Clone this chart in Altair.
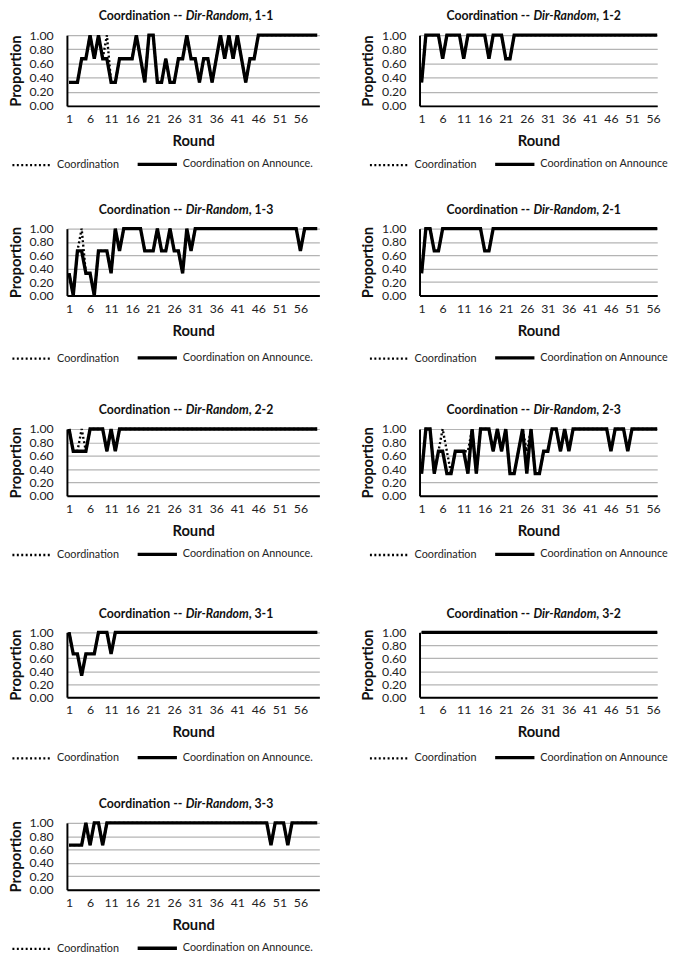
import altair as alt
import pandas as pd

FONT = "Lato"
ROUNDS = list(range(1, 61))
X_TICKS = [1, 6, 11, 16, 21, 26, 31, 36, 41, 46, 51, 56]
Y_TICKS = [0.0, 0.2, 0.4, 0.6, 0.8, 1.0]
SERIES = ["Coordination", "Coordination on Announce."]

# ---- "Coordination on Announce." (ann_) and "Coordination" (coord_) per round 1..60 ----
ann_11 = [0.333, 0.333, 0.333, 0.667, 0.667, 1, 0.667, 1, 0.667, 0.667,
          0.333, 0.333, 0.667, 0.667, 0.667, 0.667, 1, 0.667, 0.333, 1,
          1, 0.333, 0.333, 0.667, 0.333, 0.333, 0.667, 0.667, 1, 0.667,
          0.667, 0.333, 0.667, 0.667, 0.333, 0.667, 1, 0.667, 1, 0.667,
          1, 0.667, 0.333, 0.667, 0.667, 1, 1, 1, 1, 1,
          1, 1, 1, 1, 1, 1, 1, 1, 1, 1]
coord_11 = [0.333, 0.333, 0.333, 0.667, 0.667, 1, 0.667, 1, 0.667, 1,
            0.333, 0.333, 0.667, 0.667, 0.667, 0.667, 1, 0.667, 0.333, 1,
            1, 0.333, 0.333, 0.667, 0.333, 0.333, 0.667, 0.667, 1, 0.667,
            0.667, 0.333, 0.667, 0.667, 0.333, 0.667, 1, 0.667, 1, 0.667,
            1, 0.667, 0.333, 0.667, 0.667, 1, 1, 1, 1, 1,
            1, 1, 1, 1, 1, 1, 1, 1, 1, 1]

ann_12 = [0.333, 1, 1, 1, 1, 0.667, 1, 1, 1, 1,
          0.667, 1, 1, 1, 1, 1, 0.667, 1, 1, 1,
          0.667, 0.667, 1, 1, 1, 1, 1, 1, 1, 1,
          1, 1, 1, 1, 1, 1, 1, 1, 1, 1,
          1, 1, 1, 1, 1, 1, 1, 1, 1, 1,
          1, 1, 1, 1, 1, 1, 1, 1, 1, 1]
coord_12 = [0.333, 1, 1, 1, 1, 0.667, 1, 1, 1, 1,
            0.667, 1, 1, 1, 1, 1, 0.667, 1, 1, 1,
            0.667, 0.667, 1, 1, 1, 1, 1, 1, 1, 1,
            1, 1, 1, 1, 1, 1, 1, 1, 1, 1,
            1, 1, 1, 1, 1, 1, 1, 1, 1, 1,
            1, 1, 1, 1, 1, 1, 1, 1, 1, 1]

ann_13 = [0.333, 0, 0.667, 0.667, 0.333, 0.333, 0, 0.667, 0.667, 0.667,
          0.333, 1, 0.667, 1, 1, 1, 1, 1, 0.667, 0.667,
          0.667, 1, 0.667, 0.667, 1, 0.667, 0.667, 0.333, 1, 0.667,
          1, 1, 1, 1, 1, 1, 1, 1, 1, 1,
          1, 1, 1, 1, 1, 1, 1, 1, 1, 1,
          1, 1, 1, 1, 1, 0.667, 1, 1, 1, 1]
coord_13 = [0.333, 0, 0.667, 1, 0.333, 0.333, 0, 0.667, 0.667, 0.667,
            0.333, 1, 0.667, 1, 1, 1, 1, 1, 0.667, 0.667,
            0.667, 1, 0.667, 0.667, 1, 0.667, 0.667, 0.333, 1, 0.667,
            1, 1, 1, 1, 1, 1, 1, 1, 1, 1,
            1, 1, 1, 1, 1, 1, 1, 1, 1, 1,
            1, 1, 1, 1, 1, 0.667, 1, 1, 1, 1]

ann_21 = [0.333, 1, 1, 0.667, 0.667, 1, 1, 1, 1, 1,
          1, 1, 1, 1, 1, 0.667, 0.667, 1, 1, 1,
          1, 1, 1, 1, 1, 1, 1, 1, 1, 1,
          1, 1, 1, 1, 1, 1, 1, 1, 1, 1,
          1, 1, 1, 1, 1, 1, 1, 1, 1, 1,
          1, 1, 1, 1, 1, 1, 1, 1, 1, 1]
coord_21 = [0.333, 1, 1, 0.667, 0.667, 1, 1, 1, 1, 1,
            1, 1, 1, 1, 1, 0.667, 0.667, 1, 1, 1,
            1, 1, 1, 1, 1, 1, 1, 1, 1, 1,
            1, 1, 1, 1, 1, 1, 1, 1, 1, 1,
            1, 1, 1, 1, 1, 1, 1, 1, 1, 1,
            1, 1, 1, 1, 1, 1, 1, 1, 1, 1]

ann_22 = [1, 0.667, 0.667, 0.667, 0.667, 1, 1, 1, 1, 0.667,
          1, 0.667, 1, 1, 1, 1, 1, 1, 1, 1,
          1, 1, 1, 1, 1, 1, 1, 1, 1, 1,
          1, 1, 1, 1, 1, 1, 1, 1, 1, 1,
          1, 1, 1, 1, 1, 1, 1, 1, 1, 1,
          1, 1, 1, 1, 1, 1, 1, 1, 1, 1]
coord_22 = [1, 0.667, 0.667, 1, 0.667, 1, 1, 1, 1, 0.667,
            1, 0.667, 1, 1, 1, 1, 1, 1, 1, 1,
            1, 1, 1, 1, 1, 1, 1, 1, 1, 1,
            1, 1, 1, 1, 1, 1, 1, 1, 1, 1,
            1, 1, 1, 1, 1, 1, 1, 1, 1, 1,
            1, 1, 1, 1, 1, 1, 1, 1, 1, 1]

ann_23 = [0.333, 1, 1, 0.333, 0.667, 0.667, 0.333, 0.333, 0.667, 0.667,
          0.667, 0.333, 1, 0.333, 1, 1, 1, 0.667, 1, 0.667,
          1, 0.333, 0.333, 0.667, 1, 0.333, 1, 0.333, 0.333, 0.667,
          0.667, 1, 1, 0.667, 1, 0.667, 1, 1, 1, 1,
          1, 1, 1, 1, 1, 0.667, 1, 1, 1, 0.667,
          1, 1, 1, 1, 1, 1, 1, 1, 1, 1]
coord_23 = [0.333, 1, 1, 0.333, 0.667, 1, 0.667, 0.333, 0.667, 0.667,
            0.667, 0.667, 1, 0.333, 1, 1, 1, 0.667, 1, 0.667,
            1, 0.333, 0.333, 0.667, 1, 0.667, 1, 0.333, 0.333, 0.667,
            0.667, 1, 1, 0.667, 1, 0.667, 1, 1, 1, 1,
            1, 1, 1, 1, 1, 0.667, 1, 1, 1, 0.667,
            1, 1, 1, 1, 1, 1, 1, 1, 1, 1]

ann_31 = [1, 0.667, 0.667, 0.333, 0.667, 0.667, 0.667, 1, 1, 1,
          0.667, 1, 1, 1, 1, 1, 1, 1, 1, 1,
          1, 1, 1, 1, 1, 1, 1, 1, 1, 1,
          1, 1, 1, 1, 1, 1, 1, 1, 1, 1,
          1, 1, 1, 1, 1, 1, 1, 1, 1, 1,
          1, 1, 1, 1, 1, 1, 1, 1, 1, 1]
coord_31 = [1, 0.667, 0.667, 0.333, 0.667, 0.667, 0.667, 1, 1, 1,
            0.667, 1, 1, 1, 1, 1, 1, 1, 1, 1,
            1, 1, 1, 1, 1, 1, 1, 1, 1, 1,
            1, 1, 1, 1, 1, 1, 1, 1, 1, 1,
            1, 1, 1, 1, 1, 1, 1, 1, 1, 1,
            1, 1, 1, 1, 1, 1, 1, 1, 1, 1]

ann_32 = [1, 1, 1, 1, 1, 1, 1, 1, 1, 1,
          1, 1, 1, 1, 1, 1, 1, 1, 1, 1,
          1, 1, 1, 1, 1, 1, 1, 1, 1, 1,
          1, 1, 1, 1, 1, 1, 1, 1, 1, 1,
          1, 1, 1, 1, 1, 1, 1, 1, 1, 1,
          1, 1, 1, 1, 1, 1, 1, 1, 1, 1]
coord_32 = [1, 1, 1, 1, 1, 1, 1, 1, 1, 1,
            1, 1, 1, 1, 1, 1, 1, 1, 1, 1,
            1, 1, 1, 1, 1, 1, 1, 1, 1, 1,
            1, 1, 1, 1, 1, 1, 1, 1, 1, 1,
            1, 1, 1, 1, 1, 1, 1, 1, 1, 1,
            1, 1, 1, 1, 1, 1, 1, 1, 1, 1]

ann_33 = [0.667, 0.667, 0.667, 0.667, 1, 0.667, 1, 1, 0.667, 1,
          1, 1, 1, 1, 1, 1, 1, 1, 1, 1,
          1, 1, 1, 1, 1, 1, 1, 1, 1, 1,
          1, 1, 1, 1, 1, 1, 1, 1, 1, 1,
          1, 1, 1, 1, 1, 1, 1, 1, 0.667, 1,
          1, 1, 0.667, 1, 1, 1, 1, 1, 1, 1]
coord_33 = [0.667, 0.667, 0.667, 0.667, 1, 0.667, 1, 1, 0.667, 1,
            1, 1, 1, 1, 1, 1, 1, 1, 1, 1,
            1, 1, 1, 1, 1, 1, 1, 1, 1, 1,
            1, 1, 1, 1, 1, 1, 1, 1, 1, 1,
            1, 1, 1, 1, 1, 1, 1, 1, 0.667, 1,
            1, 1, 0.667, 1, 1, 1, 1, 1, 1, 1]

TITLE_Y = -19
TITLE_SIZE = 12.5


def make_df(ann, coord):
    rows = []
    for r, v in zip(ROUNDS, coord):
        rows.append({"round": r, "series": SERIES[0], "value": v})
    for r, v in zip(ROUNDS, ann):
        rows.append({"round": r, "series": SERIES[1], "value": v})
    return pd.DataFrame(rows)


def panel(label, ann, coord, right, height, leg_shift=0):
    df = make_df(ann, coord)
    if right:
        width = 242
        xdom = [0.5, 57.0]
        df = df[df["round"] <= 57]
        leg_x = -52
        x_it = 116
        lab_expr = "datum.label == 'Coordination on Announce.' ? 'Coordination on Announce' : datum.label"
    else:
        width = 257
        xdom = [0.5, 60.5]
        leg_x = -57
        x_it = 121
        lab_expr = "datum.label"

    x = alt.X("round:Q", scale=alt.Scale(domain=xdom, nice=False, zero=False),
              axis=alt.Axis(values=X_TICKS, title="Round", grid=False, ticks=False,
                            labelFontSize=12.5, titleFontSize=15, titleFontWeight="bold",
                            domainColor="black", domainWidth=2, labelPadding=7,
                            titlePadding=9, labelFlush=False, labelColor="#222222",
                            titleColor="#111111"))
    y = alt.Y("value:Q", scale=alt.Scale(domain=[0, 1], nice=False),
              axis=alt.Axis(values=Y_TICKS, format=".2f", title="Proportion",
                            grid=True, gridColor="#b4b4b4", gridWidth=1.2,
                            ticks=False, domainColor="black", domainWidth=2,
                            labelPadding=14, labelFontSize=12.5, labelColor="#222222",
                            titleFontSize=15, titleFontWeight="bold", titleColor="#111111",
                            titlePadding=6))
    legend = alt.Legend(orient="none", legendX=leg_x, legendY=height + 37.5 + leg_shift,
                        direction="horizontal", title=None, symbolType="stroke",
                        symbolSize=1600, labelFontSize=11, labelOffset=4,
                        columnPadding=12, symbolStrokeColor="black", padding=0,
                        labelColor="#222222", labelExpr=lab_expr)
    dash = alt.StrokeDash("series:N",
                          scale=alt.Scale(domain=SERIES, range=[[2, 2.5], [1, 0]]),
                          legend=legend)
    sw = alt.StrokeWidth("series:N",
                         scale=alt.Scale(domain=SERIES, range=[2.4, 3.4]),
                         legend=legend)
    base = alt.Chart(df).mark_line(color="black").encode(
        x=x, y=y, strokeDash=dash, strokeWidth=sw)
    line_c = base.transform_filter(alt.datum.series == SERIES[0])
    line_a = base.transform_filter(alt.datum.series == SERIES[1])

    tdf = pd.DataFrame({"k": [0]})
    tb = alt.Chart(tdf)
    common = dict(baseline="middle", fontSize=TITLE_SIZE, fontWeight="bold", font=FONT,
                  color="#111111")
    t1 = tb.mark_text(text="Coordination --", align="right", **common).encode(
        x=alt.value(x_it - 3.5), y=alt.value(TITLE_Y))
    t2 = tb.mark_text(text="Dir-Random", align="left", fontStyle="italic", **common).encode(
        x=alt.value(x_it), y=alt.value(TITLE_Y))
    t3 = tb.mark_text(text=", " + label, align="left", **common).encode(
        x=alt.value(x_it + 64), y=alt.value(TITLE_Y))
    return alt.layer(line_c, line_a, t1, t2, t3).properties(width=width, height=height)


def indep(c):
    return c.resolve_scale(strokeDash="independent", strokeWidth="independent").resolve_legend(
        strokeDash="independent", strokeWidth="independent")


p11 = panel("1-1", ann_11, coord_11, False, 72)
p12 = panel("1-2", ann_12, coord_12, True, 72)
p13 = panel("1-3", ann_13, coord_13, False, 68, 4)
p21 = panel("2-1", ann_21, coord_21, True, 68, 4)
p22 = panel("2-2", ann_22, coord_22, False, 68)
p23 = panel("2-3", ann_23, coord_23, True, 68)
p31 = panel("3-1", ann_31, coord_31, False, 66, 2)
p32 = panel("3-2", ann_32, coord_32, True, 66, 2)
p33 = panel("3-3", ann_33, coord_33, False, 68)

H_SP = 37
r1 = indep(alt.hconcat(p11, p12, spacing=H_SP))
r2 = indep(alt.hconcat(p13, p21, spacing=H_SP))
r3 = indep(alt.hconcat(p22, p23, spacing=H_SP))
r4 = indep(alt.hconcat(p31, p32, spacing=H_SP))

g45 = indep(alt.vconcat(r4, p33, spacing=34))
g35 = indep(alt.vconcat(r3, g45, spacing=47))
g25 = indep(alt.vconcat(r2, g35, spacing=40))
chart = indep(alt.vconcat(r1, g25, spacing=33))

chart = chart.properties(
    padding={"top": -6, "bottom": 0, "left": 0, "right": 0}
).configure_view(stroke=None).configure_axis(
    labelFont=FONT, titleFont=FONT).configure_legend(labelFont=FONT).configure_text(font=FONT)

chart.save("out.html", embed_options={"renderer": "svg", "actions": False})
